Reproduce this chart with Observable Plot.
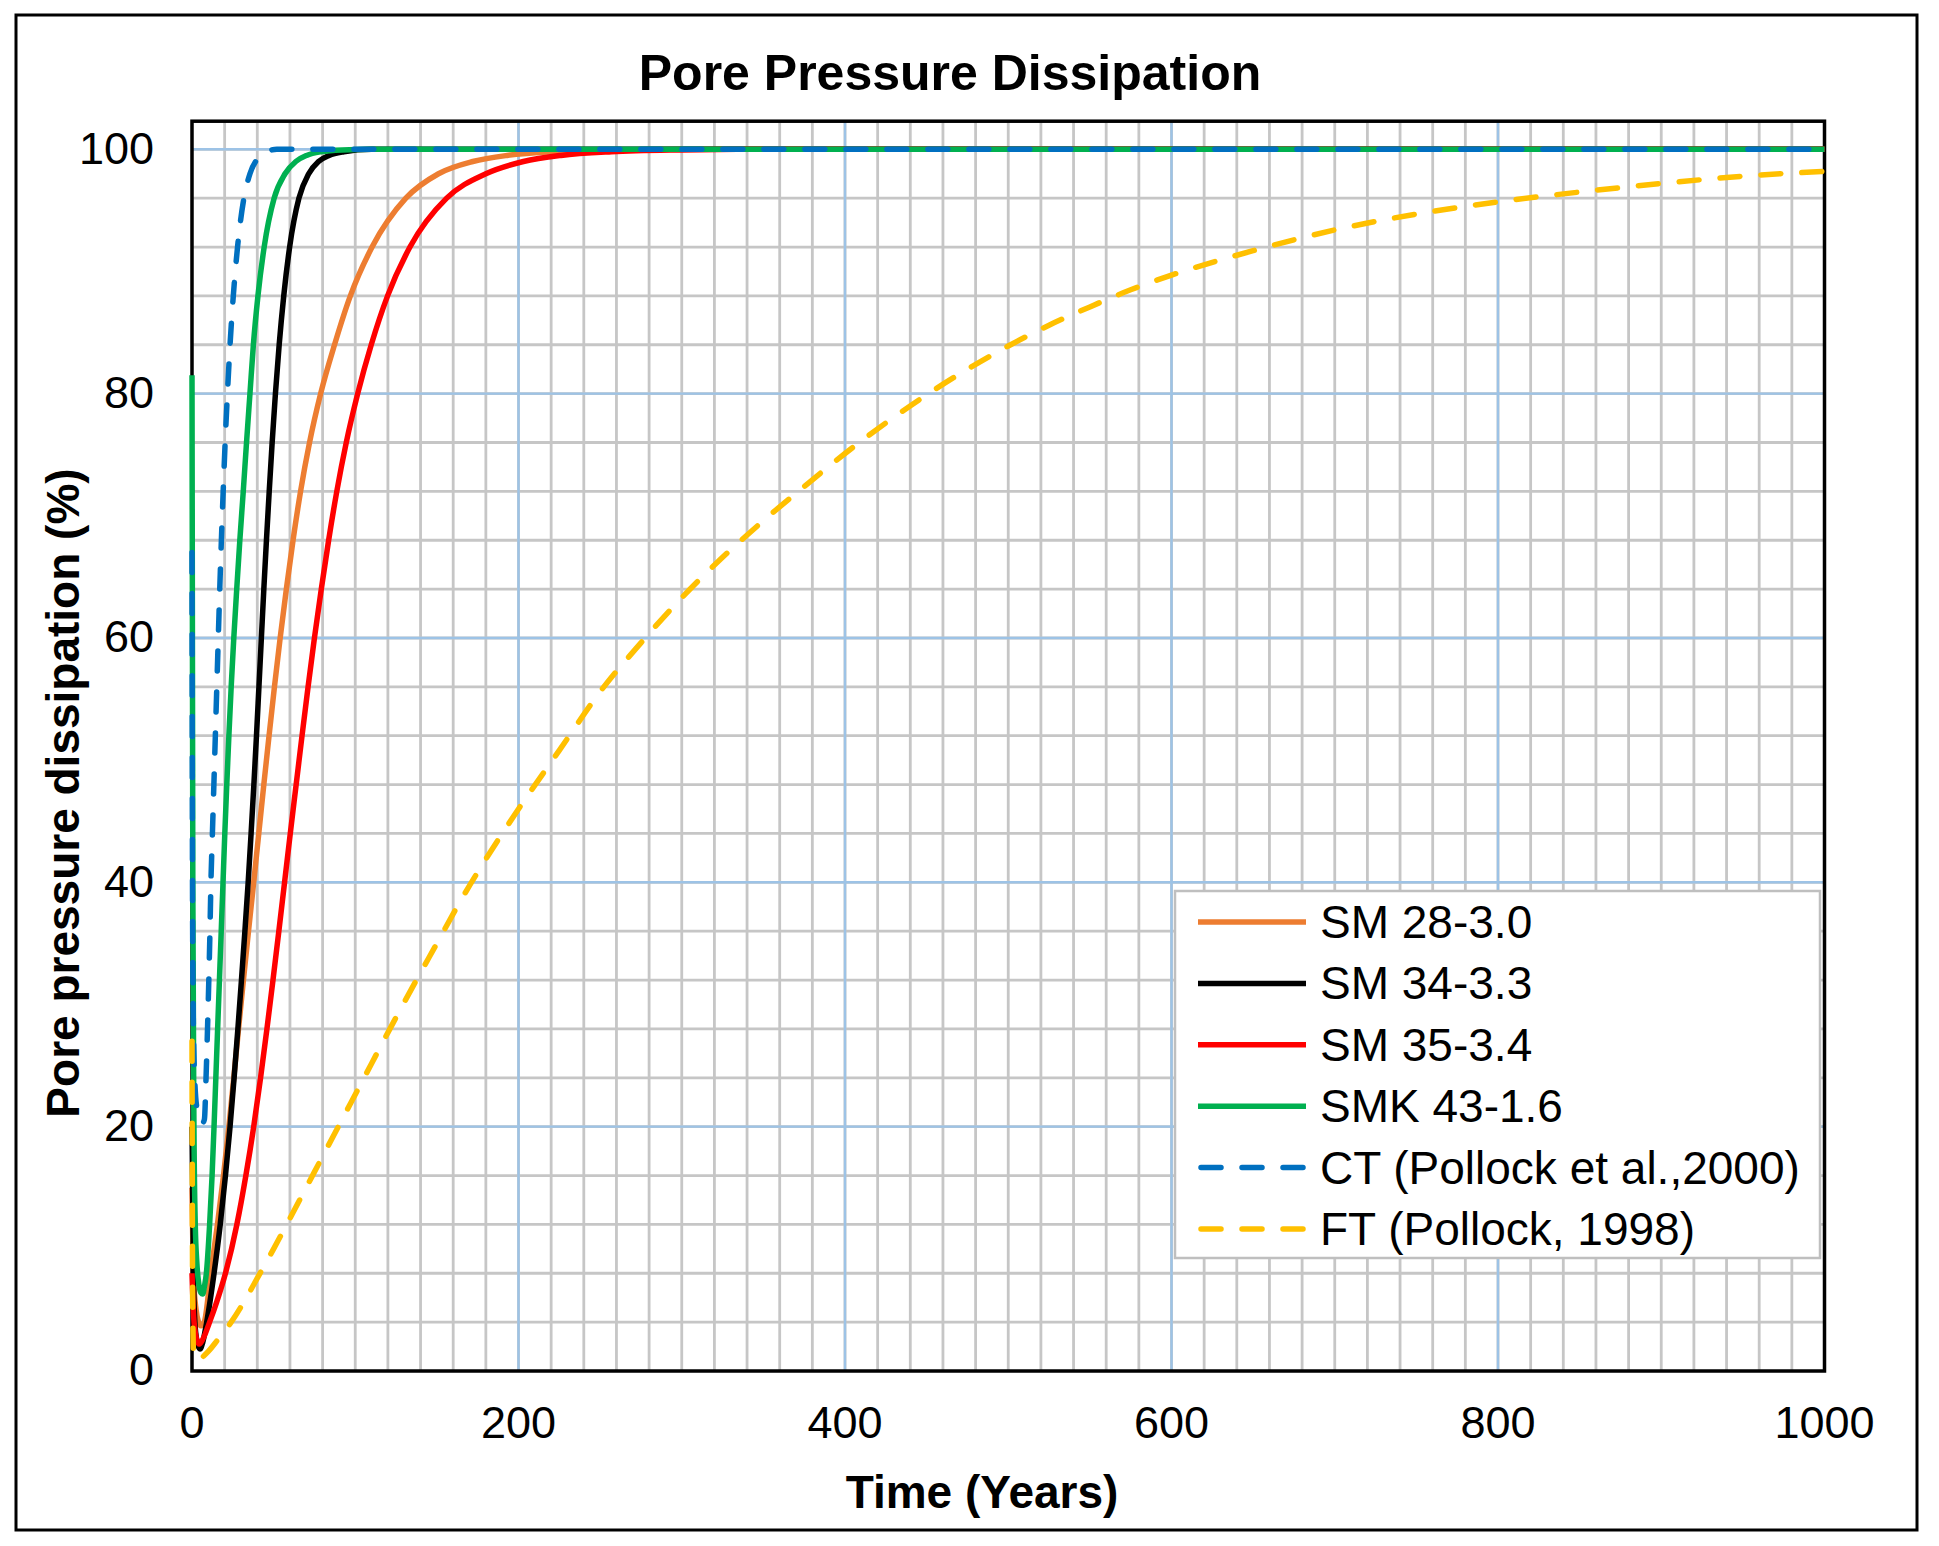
<!DOCTYPE html>
<html><head><meta charset="utf-8">
<script src="https://cdn.jsdelivr.net/npm/d3@7"></script>
<script src="https://cdn.jsdelivr.net/npm/@observablehq/plot@0.6"></script>
<style>body{margin:0;background:#fff}svg{display:block}</style>
</head><body><div id="chart"></div>
<script>
// ---- data (Time in years, dissipation in %) ----
const seriesNames = ["SM 28-3.0", "SM 34-3.3", "SM 35-3.4", "SMK 43-1.6", "CT (Pollock et al.,2000)", "FT (Pollock, 1998)"];
const seriesColors = ["#ED7D31", "#000000", "#FF0000", "#00B050", "#0070C0", "#FFC000"];
const seriesDashed = [false, false, false, false, true, true];

const orangeYears = [0,1,2.5,4,5.5,7.5,11.5,15.6,19.3,22.6,25.6,28.5,31.5,34.6,37.8,40.9,44.0,47.2,50.5,54.0,57.8,61.9,66.5,72.0,78.8,87.3,97,110.3,131,151,172,193,220,262,300,1000];
const orangeValues = [15,7.5,5,4,3.7,4,8,12,16,20,24,28,32,36,40,44,48,52,56,60,64,68,72,76,80,84,88,92,96,98,99,99.5,99.8,99.95,100,100];

const blackYears = [0,1,2,3.5,4.9,6.5,9,13.5,17.3,20.5,23.3,25.8,28.1,30.3,32.4,34.4,36.2,37.9,39.5,41.0,42.5,44.0,45.6,47.3,49.1,51.1,53.4,56.2,59.8,65.5,71.5,77.5,84,93,110,1000];
const blackValues = [20,7,3.5,2.2,1.8,2.3,4,8,12,16,20,24,28,32,36,40,44,48,52,56,60,64,68,72,76,80,84,88,92,96,98,99,99.5,99.8,100,100];

const redYears = [0,1,2.5,4.5,7,10.5,15,20.5,27.5,33,37.8,42,45.9,49.6,53.2,56.7,60.2,63.8,67.4,71.1,75,79.2,83.7,88.7,94.5,101.5,109.8,119.8,133.5,156,180,203,226,257,300,340,1000];
const redValues = [8,4.5,2.8,2.2,2.7,3.9,5.6,8,12,16,20,24,28,32,36,40,44,48,52,56,60,64,68,72,76,80,84,88,92,96,98,99,99.5,99.8,99.95,100,100];

const greenYears = [0,0.5,1.2,2,3,4.2,5.5,6.6,7.7,8.8,10.8,12.3,13.5,14.6,15.7,16.8,17.9,19.0,20.1,21.3,22.6,24.0,25.6,27.4,29.3,31.4,33.4,35.5,37.6,40.4,44.2,50.3,57,63.6,70.2,79,92,110,1000];
const greenValues = [81.5,40,20,12,8.8,7.1,6.4,6.3,7,8,12,16,20,24,28,32,36,40,44,48,52,56,60,64,68,72,76,80,84,88,92,96,98,99,99.5,99.8,99.95,100,100];

const blueYears = [0,0.3,0.7,1.5,3,5,6.5,7.6,8.6,9.5,10.3,11.0,11.6,12.5,13.4,14.3,15.2,16.1,17.0,18.0,19.1,20.3,21.7,23.3,25.3,27.9,31.8,35.5,40,46,52,1000];
const blueValues = [67,40,30,24.5,21.5,20.5,20.3,20.6,24,28,32,36,40,44,48,52,56,60,64,68,72,76,80,84,88,92,96,98,99.2,99.8,100,100];

const yellowYears = [0,0.4,1,3,6,10,16,24,32,40,50,60,75,90,105,120,135,150,165,180,200,225,250,275,300,325,350,375,400,425,450,475,500,525,550,575,600,650,700,750,800,850,900,950,1000];
const yellowValues = [27,6,1.2,0.9,1.1,1.6,2.6,4.0,5.7,7.6,10.0,12.5,16.3,20.1,23.9,27.7,31.4,35.0,38.6,41.9,46.0,50.8,55.6,59.6,63.3,66.6,69.6,72.4,75.1,77.6,79.9,82.0,83.9,85.6,87.1,88.5,89.7,91.7,93.4,94.7,95.7,96.5,97.2,97.8,98.2];

const xTicks = [0, 200, 400, 600, 800, 1000];
const yTicks = [0, 20, 40, 60, 80, 100];
const xMinor = d3.range(20, 1000, 20);
const yMinor = d3.range(4, 102, 4);
const xMajor = [200, 400, 600, 800];
const yMajor = [20, 40, 60, 80, 100];

const chartTitle = "Pore Pressure Dissipation";
const xTitle = "Time (Years)";
const yTitle = "Pore pressure dissipation (%)";

// ---- build ----
const allYears = [orangeYears, blackYears, redYears, greenYears, blueYears, yellowYears];
const allValues = [orangeValues, blackValues, redValues, greenValues, blueValues, yellowValues];
const series = allYears.map((ys, k) => ys.map((t, i) => ({t, v: allValues[k][i]})));

const FONT = "'Liberation Sans', Arial, Helvetica, sans-serif";
const DASH = "20,21";
const LW = 5.5;

const lineMarks = series.map((data, k) => Plot.line(data, {
  x: "t", y: "v", stroke: seriesColors[k], strokeWidth: LW,
  strokeDasharray: seriesDashed[k] ? DASH : null,
  strokeLinecap: seriesDashed[k] ? "round" : "butt",
  strokeLinejoin: "round", curve: "monotone-x"
}));

const chart = Plot.plot({
  width: 1939, height: 1546,
  marginLeft: 191.5, marginRight: 115, marginTop: 120.7, marginBottom: 175.5,
  x: {domain: [0, 1000]},
  y: {domain: [0, 102.3]},
  style: {fontFamily: FONT, fontSize: "45px", color: "#000", background: "#fff", overflow: "visible"},
  marks: [
    Plot.gridX(xMinor, {stroke: "#c6c6c6", strokeOpacity: 1, strokeWidth: 2.8}),
    Plot.gridY(yMinor, {stroke: "#c6c6c6", strokeOpacity: 1, strokeWidth: 2.8}),
    Plot.gridX(xMajor, {stroke: "#9dc3e6", strokeOpacity: 1, strokeWidth: 2.4}),
    Plot.gridY(yMajor, {stroke: "#9dc3e6", strokeOpacity: 1, strokeWidth: 2.4}),
    Plot.frame({stroke: "#000", strokeWidth: 3.5}),
    ...lineMarks,
    Plot.axisX({ticks: xTicks, tickSize: 0, tickPadding: 35, tickFormat: d => String(d), label: null, fontSize: 45}),
    Plot.axisY({ticks: yTicks, tickSize: 0, tickPadding: 38, tickFormat: d => String(d), label: null, fontSize: 45})
  ]
});
document.getElementById("chart").appendChild(chart);

const svg = d3.select(chart);
// outer chart border
svg.append("rect").attr("x", 16).attr("y", 15).attr("width", 1901).attr("height", 1515)
  .attr("fill", "none").attr("stroke", "#000").attr("stroke-width", 3);
// title
svg.append("text").attr("x", 950).attr("y", 90).attr("text-anchor", "middle")
  .attr("font-family", FONT).attr("font-size", 50).attr("font-weight", "bold").attr("fill", "#000").text(chartTitle);
// axis titles
svg.append("text").attr("x", 982).attr("y", 1508).attr("text-anchor", "middle")
  .attr("font-family", FONT).attr("font-size", 46).attr("font-weight", "bold").attr("fill", "#000").text(xTitle);
svg.append("text").attr("transform", "translate(79,793) rotate(-90)").attr("text-anchor", "middle")
  .attr("font-family", FONT).attr("font-size", 46).attr("font-weight", "bold").attr("fill", "#000").text(yTitle);

// legend
const lg = svg.append("g");
lg.append("rect").attr("x", 1175).attr("y", 891).attr("width", 645).attr("height", 367)
  .attr("fill", "#fff").attr("stroke", "#bfbfbf").attr("stroke-width", 2.5);
seriesNames.forEach((name, k) => {
  const cy = 922 + k * 61.4;
  lg.append("line").attr("x1", seriesDashed[k] ? 1201 : 1198).attr("x2", seriesDashed[k] ? 1303 : 1306)
    .attr("y1", cy).attr("y2", cy)
    .attr("stroke", seriesColors[k]).attr("stroke-width", 5.5)
    .attr("stroke-dasharray", seriesDashed[k] ? "20,21" : null)
    .attr("stroke-linecap", seriesDashed[k] ? "round" : "butt");
  lg.append("text").attr("x", 1320).attr("y", cy + 16).attr("text-anchor", "start")
    .attr("font-family", FONT).attr("font-size", 46).attr("fill", "#000").text(name);
});
</script>
</body></html>
